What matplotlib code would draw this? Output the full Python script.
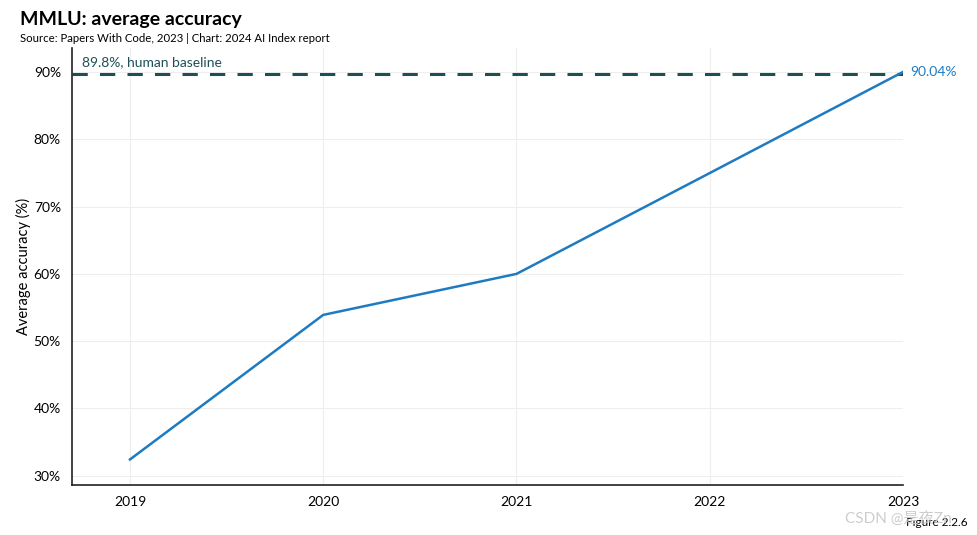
import matplotlib.pyplot as plt
from matplotlib.ticker import FuncFormatter

plt.rcParams['font.family'] = ['Lato', 'Noto Sans CJK SC', 'DejaVu Sans']

years = [2019, 2020, 2021, 2022, 2023]
accuracy = [32.4, 53.9, 60.0, 75.0, 90.04]
human_baseline = 89.8
y_ticks = [30, 40, 50, 60, 70, 80, 90]

fig = plt.figure(figsize=(9.77, 5.35), dpi=100)
ax = fig.add_axes([72 / 977, 1 - 485 / 535, (903 - 72) / 977, (485 - 48) / 535])

ax.plot(years, accuracy, color='#1f7bc1', linewidth=1.8, zorder=3)
ax.axhline(human_baseline, color='#1e4f55', linestyle=(0, (5, 4)), linewidth=2.2, zorder=2)
ax.text(2018.75, human_baseline + 0.8, '89.8%, human baseline', color='#1e4f55',
        fontsize=10, ha='left', va='bottom')
ax.text(years[-1] + 0.04, accuracy[-1], f'{accuracy[-1]:.2f}%', color='#1f7bc1',
        fontsize=10, ha='left', va='center', clip_on=False)

ax.set_xlim(2018.7, 2023)
ax.set_ylim(28.6, 93.6)
ax.set_xticks(years)
ax.set_yticks(y_ticks)
ax.yaxis.set_major_formatter(FuncFormatter(lambda v, p: f'{v:.0f}%'))
ax.tick_params(axis='both', length=0, labelsize=10, colors='black', pad=8)
ax.grid(True, color='#eeeeee', linewidth=0.8)
ax.set_axisbelow(True)
for s in ['top', 'right']:
    ax.spines[s].set_visible(False)
ax.spines['left'].set_color('#222222')
ax.spines['bottom'].set_color('#222222')
ax.spines['left'].set_linewidth(1.2)
ax.spines['bottom'].set_linewidth(1.2)
ax.set_ylabel('Average accuracy (%)', fontsize=10.5, labelpad=2)

fig.text(20 / 977, 1 - 20 / 535, 'MMLU: average accuracy', fontsize=14, fontweight='bold',
         ha='left', va='center')
fig.text(20 / 977, 1 - 38 / 535, 'Source: Papers With Code, 2023 | Chart: 2024 AI Index report',
         fontsize=8.2, ha='left', va='center')
fig.text(968 / 977, 1 - 522 / 535, 'Figure 2.2.6', fontsize=8.5, ha='right', va='center')
fig.text(845 / 977, 1 - 518 / 535, 'CSDN @是夜Zn', fontsize=11, color='#c8c8c8',
         ha='left', va='center', alpha=0.9)

fig.savefig('out.png', dpi=100)
